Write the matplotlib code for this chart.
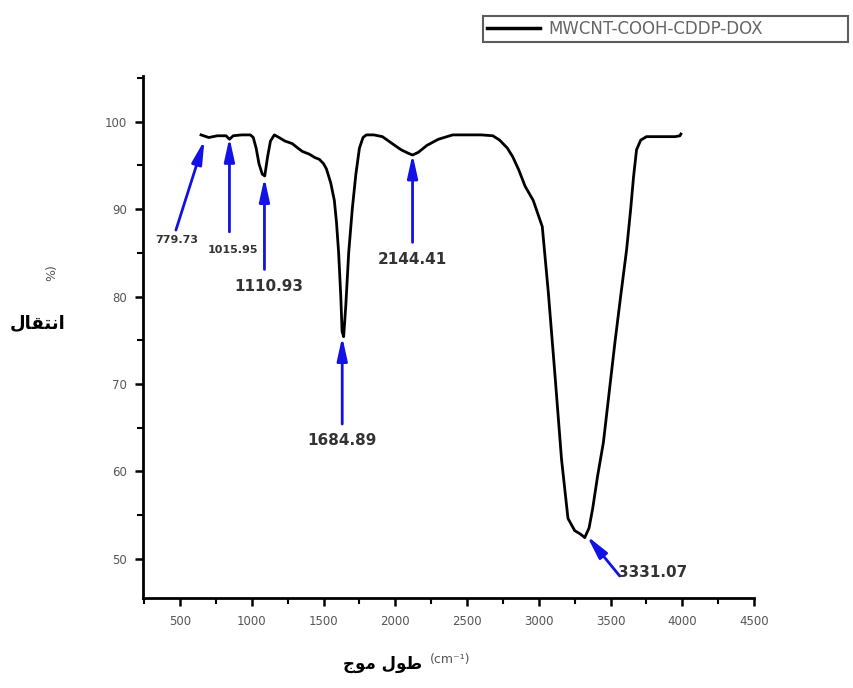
import matplotlib
matplotlib.use('Agg')
import matplotlib.pyplot as plt
from matplotlib.lines import Line2D
from matplotlib.ticker import MultipleLocator

# FTIR spectrum
wavenumber = [646, 700, 760, 820, 845, 870, 930, 990, 1010, 1030, 1050, 1073, 1090, 1110,
              1130, 1157, 1190, 1230, 1282, 1320, 1353, 1400, 1440, 1471, 1500, 1520, 1550,
              1575, 1590, 1605, 1620, 1629, 1640, 1655, 1675, 1700, 1725, 1750, 1775, 1798,
              1850, 1910, 1970, 2040, 2090, 2120, 2160, 2220, 2300, 2400, 2500, 2600, 2680,
              2727, 2780, 2818, 2860, 2905, 2961, 3024, 3066, 3113, 3158, 3203, 3250, 3290,
              3320, 3350, 3375, 3410, 3450, 3490, 3530, 3570, 3612, 3640, 3660, 3681, 3710,
              3750, 3850, 3950, 3983, 3990]
transmittance = [98.5, 98.2, 98.4, 98.4, 98.0, 98.4, 98.5, 98.5, 98.2, 97.0, 95.2, 94.0, 93.8, 96.0,
                 97.8, 98.5, 98.2, 97.8, 97.5, 97.0, 96.6, 96.3, 95.9, 95.7, 95.2, 94.6, 93.0,
                 91.0, 88.5, 85.0, 80.0, 76.0, 75.4, 79.0, 85.0, 90.0, 94.0, 97.0, 98.2, 98.5,
                 98.5, 98.3, 97.6, 96.8, 96.4, 96.2, 96.5, 97.3, 98.0, 98.5, 98.5, 98.5, 98.4,
                 97.9, 97.0, 96.0, 94.5, 92.6, 91.0, 88.0, 80.5, 70.9, 61.4, 54.6, 53.2, 52.8,
                 52.4, 53.5, 55.7, 59.5, 63.3, 69.0, 74.7, 80.0, 85.4, 90.0, 93.7, 96.8, 97.9,
                 98.3, 98.3, 98.3, 98.4, 98.6]

# peak labels and where their arrows point
peak_labels = ['779.73', '1015.95', '1110.93', '1684.89', '2144.41', '3331.07']
peak_x = [670, 844, 1088, 1630, 2120, 3335]
peak_y = [97.9, 98.2, 93.6, 75.4, 96.3, 52.6]

fig = plt.figure(figsize=(8.54, 6.88), dpi=100)
ax = fig.add_axes([0.168, 0.131, 0.715, 0.758])

ax.plot(wavenumber, transmittance, color='black', lw=2)

ax.set_xlim(245, 4500)
ax.set_ylim(45.5, 105.2)
ax.xaxis.set_minor_locator(MultipleLocator(250))
ax.yaxis.set_minor_locator(MultipleLocator(5))
ax.set_xticks(range(500, 4501, 500))
ax.set_yticks(range(50, 101, 10))

for s in ['top', 'right']:
    ax.spines[s].set_visible(False)
for s in ['left', 'bottom']:
    ax.spines[s].set_linewidth(2)
ax.tick_params(which='major', length=6, width=1.8, labelsize=8.5, labelcolor='#555555', pad=6)
ax.tick_params(which='minor', length=4, width=1.5)

# arrows: tail points (data units) and label placement
blue = '#1212e6'
tails = [(471, 87.6), (844, 87.4), (1088, 83.1), (1630, 65.4), (2120, 86.2), (3564, 48.0)]
texts = [(475, 86.5, 8, 'center'), (870, 85.3, 8, 'center'), (1118, 81.2, 11, 'center'),
         (1630, 63.5, 11, 'center'), (2120, 84.2, 11, 'center'), (3555, 48.4, 11, 'left')]
for lab, px, py, (tx, ty), (lx, ly, fs, ha) in zip(peak_labels, peak_x, peak_y, tails, texts):
    ax.annotate('', xy=(px, py), xytext=(tx, ty),
                arrowprops=dict(arrowstyle='-|>,head_length=1.0,head_width=0.22', color=blue,
                                lw=2, shrinkA=0, shrinkB=0, mutation_scale=14))
    ax.text(lx, ly, lab, fontsize=fs, fontweight='bold', color='#333333',
            ha=ha, va='center')

# Arabic axis labels (pre-shaped presentation forms, visual order)
ylab = '\uFEDD\uFE8E\uFED8\uFE98\uFEE7\uFE8D'   # انتقال
xlab = '\uFE9D\uFEEE\uFEE3 \uFEDD\uFEEE\uFEC3'   # طول موج
fig.text(38 / 854, 1 - 323 / 688, ylab, fontsize=13, fontweight='bold', ha='center', va='center')
fig.text(52 / 854, 1 - 273 / 688, '%)', fontsize=9, color='#555555', rotation=90,
         ha='center', va='center')
fig.text(422 / 854, 1 - 664 / 688, xlab, fontsize=12, fontweight='bold', ha='right', va='center')
fig.text(430 / 854, 1 - 659 / 688, '(cm\u207b\u00b9)', fontsize=9, color='#555555',
         ha='left', va='center')

handle = Line2D([], [], color='black', lw=2.5)
leg = fig.legend([handle], ['MWCNT-COOH-CDDP-DOX'], loc='upper left',
                 bbox_to_anchor=(483 / 854, 1 - 16 / 688, 365 / 854, 0), mode='expand',
                 fontsize=12, frameon=True, fancybox=False, edgecolor='#333333',
                 handlelength=3.2, borderpad=0.25, handletextpad=0.5, borderaxespad=0)
leg.get_frame().set_linewidth(1.5)
for t in leg.get_texts():
    t.set_color('#666666')

fig.savefig('out.png', dpi=100)
